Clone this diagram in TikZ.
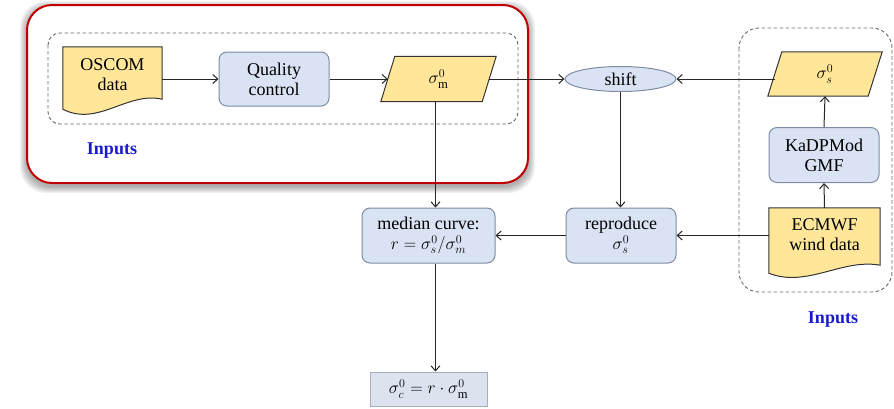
\documentclass[tikz,border=0pt]{standalone}
\usepackage{fontspec}
\setmainfont{Liberation Serif}
\usetikzlibrary{arrows.meta,calc,shapes.geometric}
\definecolor{yel}{HTML}{FFE699}
\definecolor{blu}{HTML}{DAE3F3}
\definecolor{bord}{HTML}{7D8CA3}
\definecolor{redb}{HTML}{C00000}
\definecolor{inblue}{HTML}{1A1ACC}
\definecolor{resb}{HTML}{DCE3EF}
\begin{document}
\begin{tikzpicture}[x=1pt,y=-1pt,font=\fontsize{18}{20}\selectfont,
  conn/.style={draw=black!85,line width=1pt,-{Straight Barb[length=5pt,width=9pt]}},
  bluebox/.style={draw=bord,fill=blu,rounded corners=8pt,line width=1pt,align=center,inner sep=0pt},
  plainbox/.style={align=center,inner sep=0pt},
  yelshape/.style={draw=black!80,fill=yel,line width=1pt},
  dashbox/.style={draw=black!60,dash pattern=on 3.5pt off 2.5pt,line width=0.9pt},
  inlabel/.style={font=\fontsize{18}{20}\selectfont\bfseries,text=inblue}]
\useasboundingbox (0,0) rectangle (894,408);
% shadow of red frame
\foreach \e in {1,2,...,7}{
  \fill[black,opacity=0.05,rounded corners=26pt] (27-\e,5-\e+3) rectangle (528+\e,183+\e+3);
}
\draw[redb,fill=white,line width=2pt,rounded corners=25pt] (27,5) rectangle (528,183);
% dashed groups
\draw[dashbox,rounded corners=12pt] (48,33) rectangle (518,124);
\draw[dashbox,rounded corners=20pt] (739,28) rectangle (892,292);
% nodes
\node[plainbox,minimum width=99pt,minimum height=56pt] (osc) at (112.5,75) {};
\draw[yelshape] (osc.north west) -- (osc.north east) -- ($(osc.south east)+(0,-4)$)
  .. controls ($(osc.south east)+(-35,-12)$) and ($(osc.south west)+(35,24)$) .. ($(osc.south west)+(0,6)$) -- cycle;
\node[plainbox] at (osc) {OSCOM\\data};
\node[bluebox,minimum width=110pt,minimum height=54pt] (qc) at (274,79) {Quality\\control};
\node[plainbox,minimum width=101pt,minimum height=45pt] (sm) at (438.5,79) {};
\draw[yelshape] ($(sm.south west)+(-7,0)$) -- ($(sm.north west)+(7,0)$) -- ($(sm.north east)+(7,0)$) -- ($(sm.south east)+(-7,0)$) -- cycle;
\node[plainbox] at (sm) {$\sigma_\mathrm{m}^0$};
\node[ellipse,draw=bord,fill=blu,line width=1pt,minimum width=111pt,minimum height=25pt,inner sep=0pt] (sh) at (620.5,79) {shift};
\node[plainbox,minimum width=100pt,minimum height=44pt] (ss) at (825,74) {};
\draw[yelshape] ($(ss.south west)+(-7,0)$) -- ($(ss.north west)+(7,0)$) -- ($(ss.north east)+(7,0)$) -- ($(ss.south east)+(-7,0)$) -- cycle;
\node[plainbox] at (ss) {$\sigma_s^0$};
\node[bluebox,minimum width=110pt,minimum height=55pt] (kad) at (824,155) {KaDPMod\\GMF};
\node[plainbox,minimum width=111pt,minimum height=54pt] (ecm) at (824.5,235) {};
\draw[yelshape] (ecm.north west) -- (ecm.north east) -- ($(ecm.south east)+(0,3)$)
  .. controls ($(ecm.south east)+(-38,-4)$) and ($(ecm.south west)+(38,26)$) .. ($(ecm.south west)+(0,11)$) -- cycle;
\node[plainbox] at (ecm) {ECMWF\\wind data};
\node[bluebox,minimum width=110pt,minimum height=55pt] (rep) at (621,235.5) {reproduce\\$\sigma_s^0$};
\node[bluebox,minimum width=133pt,minimum height=55pt] (med) at (428.5,235.5) {median curve:\\$r=\sigma_s^0/\sigma_m^0$};
\node[draw=bord!70,fill=resb,line width=1pt,inner sep=0pt,minimum width=117pt,minimum height=34pt] (res) at (428.5,389) {$\sigma_c^0=r\cdot\sigma_\mathrm{m}^0$};
% labels
\node[inlabel] (inl) at (112,151) {Inputs};
\node[inlabel] (inr) at (833,320) {Inputs};
% connectors
\draw[conn] (osc.east |- qc.west) -- (qc.west);
\draw[conn] (qc.east) -- (sm.west);
\draw[conn] (sm.east) -- (sh.west);
\draw[conn] (ss.west |- sh.east) -- (sh.east);
\draw[conn] (kad.north) -- (ss.south);
\draw[conn] (ecm.north) -- (kad.south);
\draw[conn] (sh.south) -- (sh.south |- rep.north);
\draw[conn] (ecm.west |- rep.east) -- (rep.east);
\draw[conn] (rep.west) -- (med.east);
\draw[conn] ($(sm.south)+(-3,0)$) -- ($(sm.south |- med.north)+(-3,0)$);
\draw[conn] ($(sm.south |- med.south)+(-3,0)$) -- ($(sm.south |- res.north)+(-3,0)$);
\end{tikzpicture}
\end{document}
